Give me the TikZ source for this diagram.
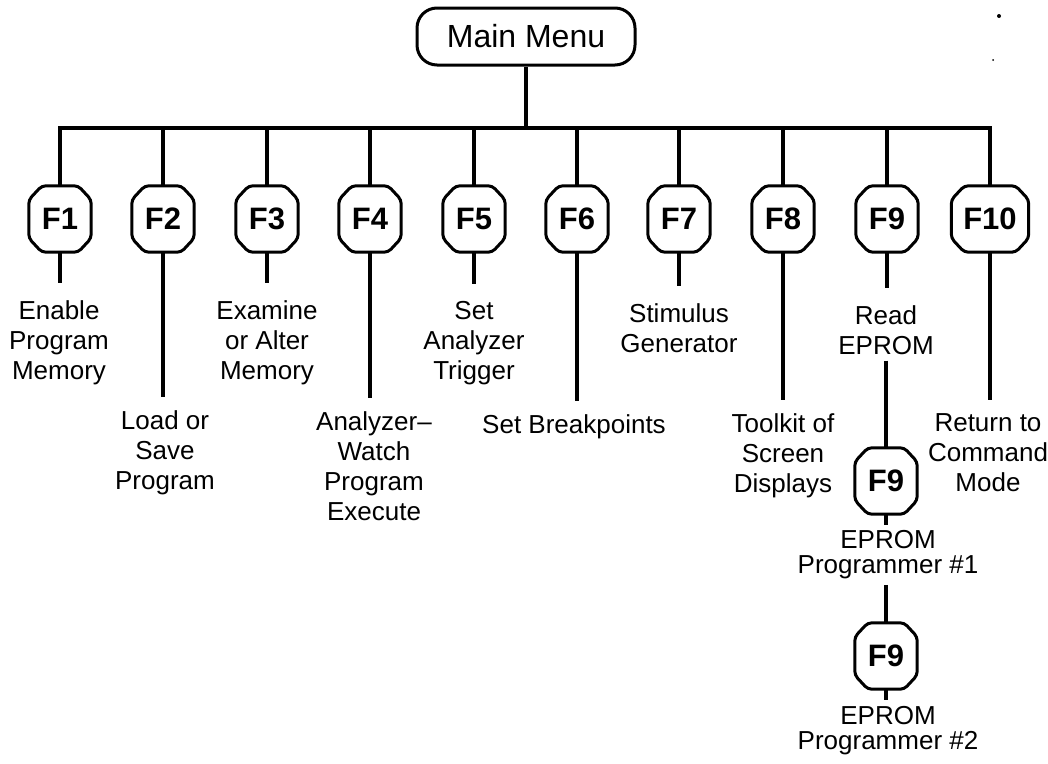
\documentclass[tikz,border=0pt]{standalone}
\usepackage{fontspec}
\setmainfont{Liberation Sans}
\begin{document}
\begin{tikzpicture}[x=1pt,y=-1pt,
  menubox/.style={draw, line width=3pt, rounded corners=20pt, minimum width=218pt,
    minimum height=57pt, inner sep=0pt, font=\fontsize{32}{38}\selectfont},
  fkey/.style={minimum width=62pt, minimum height=66pt, inner sep=0pt,
    font=\fontsize{31}{36}\selectfont\bfseries},
  keyframe/.style={draw, line width=3pt, rounded corners=4pt},
  desc/.style={align=center, inner sep=0pt, anchor=north, font=\fontsize{26}{30}\selectfont},
  tight/.style={font=\fontsize{26}{25}\selectfont},
  wire/.style={line width=3.5pt},
]
\useasboundingbox (0,0) rectangle (1048,763);

% top of the menu tree
\node[menubox] (mm) at (526,36.5) {Main Menu};
\coordinate (bus) at (0,128);

% function keys
\node[fkey] (f1)  at (60,219)  {F1};
\node[fkey] (f2)  at (163,219) {F2};
\node[fkey] (f3)  at (267,219) {F3};
\node[fkey] (f4)  at (370,219) {F4};
\node[fkey] (f5)  at (474,219) {F5};
\node[fkey] (f6)  at (577,219) {F6};
\node[fkey] (f7)  at (679,219) {F7};
\node[fkey] (f8)  at (783,219) {F8};
\node[fkey] (f9)  at (887,219) {F9};
\node[fkey, minimum width=77pt] (f10) at (990,219) {F10};
\node[fkey] (f9b) at (886,481) {F9};
\node[fkey] (f9c) at (886,656) {F9};

% octagonal key outlines
\foreach \k in {f1,f2,f3,f4,f5,f6,f7,f8,f9,f10,f9b,f9c}
  \draw[keyframe] ([xshift=13pt]\k.north west) -- ([xshift=-13pt]\k.north east)
    -- ([yshift=-14pt]\k.north east) -- ([yshift=14pt]\k.south east)
    -- ([xshift=-13pt]\k.south east) -- ([xshift=13pt]\k.south west)
    -- ([yshift=14pt]\k.south west) -- ([yshift=-14pt]\k.north west) -- cycle;

% what each key does
\node[desc] (t1)  at (59,300)  {Enable\\Program\\Memory};
\node[desc] (t2)  at (165,410) {Load or\\Save\\Program};
\node[desc] (t3)  at (267,300) {Examine\\or Alter\\Memory};
\node[desc] (t4)  at (374,411) {Analyzer--\\Watch\\Program\\Execute};
\node[desc] (t5)  at (474,301) {Set\\Analyzer\\Trigger};
\node[desc] (t6)  at (574,414) {Set Breakpoints};
\node[desc] (t7)  at (679,303) {Stimulus\\Generator};
\node[desc] (t8)  at (783,413) {Toolkit of\\Screen\\Displays};
\node[desc] (t9)  at (886,305) {Read\\EPROM};
\node[desc] (t10) at (988,413) {Return to\\Command\\Mode};
\node[desc, tight] (t9b) at (888,530) {EPROM\\Programmer \#1};
\node[desc, tight] (t9c) at (888,706) {EPROM\\Programmer \#2};

% bus from the main menu to the keys
\draw[wire] (mm.south) -- (mm.south |- bus);
\draw[wire] (f1.north) -- (f1.north |- bus) -- (f10.north |- bus) -- (f10.north);
\foreach \k in {f2,f3,f4,f5,f6,f7,f8,f9}
  \draw[wire] (\k.north) -- (\k.north |- bus);

% stems down to the descriptions
\foreach \k/\t in {f1/t1,f3/t3,f5/t5,f7/t7,f9/t9}
  \draw[wire, shorten >=17pt] (\k.south) -- (\k.south |- \t.north);
\foreach \k/\t in {f2/t2,f4/t4,f6/t6,f8/t8,f10/t10}
  \draw[wire, shorten >=13pt] (\k.south) -- (\k.south |- \t.north);
\draw[wire, shorten <=6pt] (t9.south -| f9b.north) -- (f9b.north);
\draw[wire, shorten >=5pt] (f9b.south) -- (f9b.south |- t9b.north);
\draw[wire, shorten <=6pt] (t9b.south -| f9c.north) -- (f9c.north);
\draw[wire, shorten >=6pt] (f9c.south) -- (f9c.south |- t9c.north);

% specks in the upper right corner
\fill (999,16) circle (2pt);
\fill (993,60) circle (1pt);
\end{tikzpicture}
\end{document}
